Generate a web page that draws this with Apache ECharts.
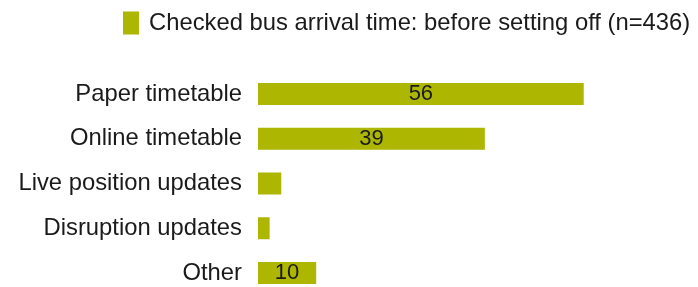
<!DOCTYPE html>
<html>
<head>
<meta charset="utf-8">
<script src="https://cdn.jsdelivr.net/npm/echarts@6/dist/echarts.min.js"></script>
<style>
  html, body { margin: 0; padding: 0; background: #fff; }
  #graph { width: 698px; height: 287px; }
</style>
</head>
<body>
<div id="graph"></div>
<script>
var seriesName = 'Checked bus arrival time: before setting off (n=436)';
var categories = ['Paper timetable', 'Online timetable', 'Live position updates', 'Disruption updates', 'Other'];
var values = [56, 39, 4, 2, 10];
// small bars have no number printed on them
var showLabel = [true, true, false, false, true];

var dom = document.getElementById('graph');
var chart = echarts.init(dom);

var font = '"Liberation Sans", Arial, sans-serif';

chart.setOption({
    animation: false,
    textStyle: { fontFamily: font },
    legend: {
        left: 118,
        top: 6,
        itemWidth: 16,
        itemHeight: 23,
        icon: 'rect',
        textStyle: {
            fontSize: 23.8,
            color: '#1a1a1a',
            fontFamily: font,
            padding: [0, 0, 0, 5]
        },
        data: [seriesName]
    },
    grid: {
        left: 258,
        top: 94,
        width: 349,
        height: 179
    },
    xAxis: {
        type: 'value',
        min: 0,
        max: 60,
        show: false
    },
    yAxis: {
        type: 'category',
        inverse: true,
        boundaryGap: false,
        data: categories,
        axisLine: { show: false },
        axisTick: { show: false },
        axisLabel: {
            margin: 16,
            fontSize: 23.8,
            color: '#1a1a1a',
            fontFamily: font
        }
    },
    series: [
        {
            name: seriesName,
            type: 'bar',
            barWidth: 22,
            itemStyle: { color: '#adb600' },
            data: values.map(function(v, i) {
                return {
                    value: v,
                    label: { show: showLabel[i] }
                };
            }),
            label: {
                position: 'inside',
                fontSize: 22,
                color: '#1a1a1a',
                fontFamily: font
            }
        }
    ]
});
</script>
</body>
</html>
